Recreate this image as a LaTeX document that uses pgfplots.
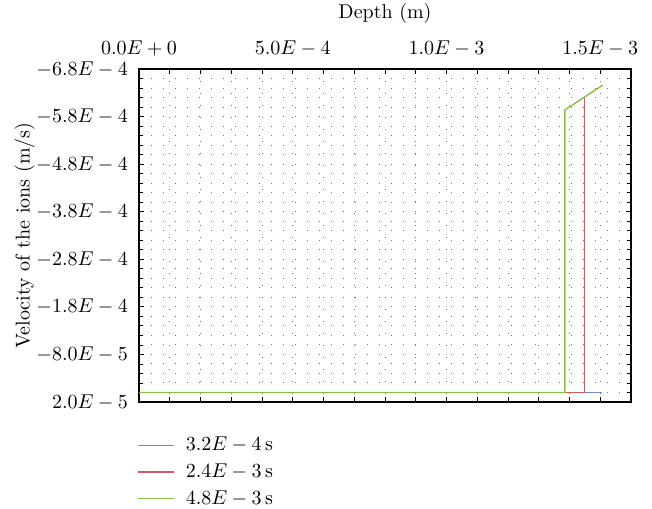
\documentclass[border=0pt]{standalone}
\usepackage{pgfplots}
\pgfplotsset{compat=1.18}
\definecolor{cblue}{RGB}{105,145,205}
\definecolor{cred}{RGB}{210,90,100}
\definecolor{cgreen}{RGB}{140,190,70}
\begin{document}
\begin{tikzpicture}
\begin{axis}[scale only axis,width=246pt,height=166.5pt,
  xmin=0,xmax=1.6e-3,ymin=-6.8e-4,ymax=2e-5,y dir=reverse,
  scaled ticks=false,
  xticklabel pos=upper,
  xtick={0,1e-4,2e-4,3e-4,4e-4,5e-4,6e-4,7e-4,8e-4,9e-4,1e-3,1.1e-3,1.2e-3,1.3e-3,1.4e-3,1.5e-3,1.6e-3},
  xticklabels={$0.0E+0$,,,,,$5.0E-4$,,,,,$1.0E-3$,,,,,$1.5E-3$,},
  ytick={-6.8e-4,-5.8e-4,-4.8e-4,-3.8e-4,-2.8e-4,-1.8e-4,-8e-5,2e-5},
  yticklabels={$-6.8E-4$,$-5.8E-4$,$-4.8E-4$,$-3.8E-4$,$-2.8E-4$,$-1.8E-4$,$-8.0E-5$,$2.0E-5$},
  minor y tick num=4,
  xmajorgrids=true,ymajorgrids=true,yminorgrids=true,
  grid style={black!55,line width=0.5pt,dash pattern=on 0.5pt off 5.5pt},
  minor grid style={black!55,line width=0.5pt,dash pattern=on 0.5pt off 5.5pt},
  major tick length=2.5pt,minor tick length=2pt,
  tick style={black,line width=0.4pt},
  axis line style={line width=0.8pt},
  xticklabel style={yshift=3pt},
  yticklabel style={xshift=-2pt},
  xlabel={Depth (m)},ylabel={Velocity of the ions (m/s)},
  xlabel style={yshift=1.5pt},
  ylabel style={yshift=-6pt},
  legend style={draw=none,fill=none,at={(0,-0.08)},anchor=north west,
    xshift=-4pt,row sep=1pt,font=\normalsize,
    /tikz/every odd column/.append style={column sep=3.5pt}},
  legend cell align=left,
  legend image code/.code={\draw[#1] (0pt,0pt) -- (18pt,0pt);},
  every axis plot/.append style={line width=0.7pt}]
\addplot[cblue] coordinates {(0,0) (1.506e-3,0)};
\addlegendentry{$3.2E-4\,\mathrm{s}$}
\addplot[cred] coordinates {(0,0) (1.448e-3,0) (1.448e-3,-6.2e-4)};
\addlegendentry{$2.4E-3\,\mathrm{s}$}
\addplot[cgreen] coordinates {(0,0) (1.385e-3,0) (1.385e-3,-5.94e-4) (1.508e-3,-6.46e-4)};
\addlegendentry{$4.8E-3\,\mathrm{s}$}
\coordinate (bl) at (axis cs:0,2e-5);
\coordinate (tr) at (axis cs:1.6e-3,-6.8e-4);
\end{axis}
\pgfresetboundingbox
\path[use as bounding box] ([xshift=-69.5pt,yshift=-53pt]bl) rectangle ([xshift=10.5pt,yshift=34.5pt]tr);
\end{tikzpicture}
\end{document}
